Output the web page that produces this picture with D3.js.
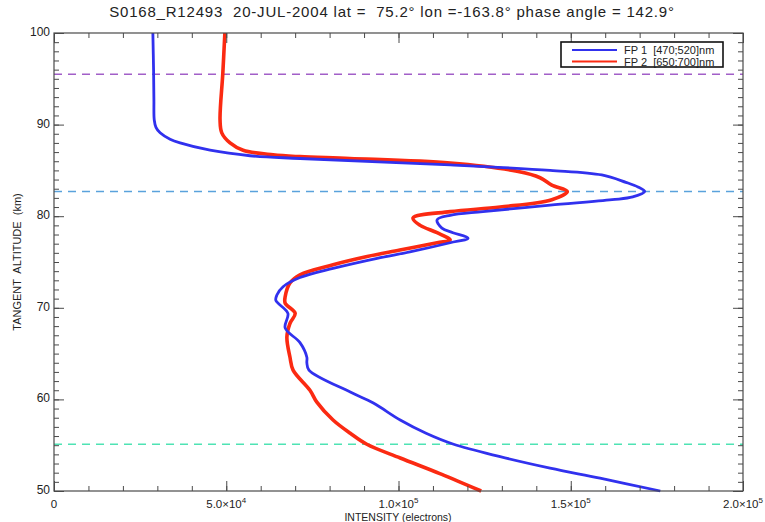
<!DOCTYPE html>
<html><head><meta charset="utf-8">
<script src="https://cdn.jsdelivr.net/npm/d3@7"></script>
<style>
body{margin:0;background:#fff;}
svg{display:block;font-family:"Liberation Sans","DejaVu Sans",sans-serif;}
</style></head>
<body><svg id="c" width="765" height="522"></svg>
<script>
// ---------- data ----------
const titleText = "S0168_R12493  20-JUL-2004 lat =  75.2\u00b0 lon =-163.8\u00b0 phase angle = 142.9\u00b0";
const xTickValues = [0, 50000, 100000, 150000, 200000];
const xTickMantissa = ["0", "5.0\u00d710", "1.0\u00d710", "1.5\u00d710", "2.0\u00d710"];
const xTickExponent = ["", "4", "5", "5", "5"];
const yTickValues = [50, 60, 70, 80, 90, 100];
const seriesNames = ["FP 1  [470;520]nm", "FP 2  [650;700]nm"];
const refAltitudes = [95.5, 82.7, 55.1];

// FP1 (blue): [intensity, altitude km]
const fp1 = [
 [28700,100],[28900,96],[29000,92.7],[29100,90.5],[29600,89.7],[30800,89.1],[33700,88.4],
 [36600,88.0],[45300,87.2],[56900,86.6],[71400,86.3],[115000,85.6],[144000,85.0],[159000,84.5],
 [166000,83.7],[169500,83.2],[171500,82.7],[168000,82.1],[162000,81.8],[144000,81.2],[124500,80.5],
 [115000,80.1],[111200,79.6],[112600,78.7],[115800,78.2],[120200,77.6],[115000,77.1],[103300,76.1],
 [93800,75.4],[81000,74.3],[71400,73.3],[66500,72.3],[64700,71.4],[64400,70.8],[67900,69.4],
 [67100,67.8],[71400,66.2],[73400,64.6],[73400,64.0],[74000,63.2],[86000,60.8],[92700,59.6],
 [100500,57.75],[108000,56.3],[116000,55.1],[129500,53.75],[144000,52.5],[158500,51.4],[176000,50.0]
];
// FP2 (red): [intensity, altitude km]
const fp2 = [
 [49600,100],[49000,95.6],[48200,90.5],[48700,89.1],[51100,88.0],[54900,87.2],[63600,86.7],
 [71400,86.5],[85900,86.3],[115000,85.8],[134400,84.9],[141100,84.2],[144500,83.4],[149000,82.7],
 [144500,81.8],[129500,81.0],[115000,80.5],[104200,79.8],[106300,79.0],[111200,78.2],[115000,77.4],
 [111200,77.1],[100400,76.3],[90900,75.6],[81000,74.7],[71400,73.6],[68500,72.7],[67100,71.2],
 [67100,70.5],[70000,69.4],[68500,68.3],[67600,66.8],[68500,64.6],[69400,63.2],[74300,61.0],
 [76300,59.7],[81000,57.75],[86000,56.3],[90800,55.1],[100500,53.6],[112000,51.9],[124000,50.0]
];

// ---------- layout ----------
const m = {left:54, right:743, top:33, bottom:491};
const svg = d3.select("#c");
const x = d3.scaleLinear().domain([0, 200000]).range([m.left, m.right]);
const y = d3.scaleLinear().domain([50, 100]).range([m.bottom, m.top]);
const axisColor = "#4a4a4a";

// reference dashed lines
const refColors = ["#a25fc8", "#5aa2dc", "#4fe3b4"];
svg.selectAll("line.ref").data(refAltitudes).enter().append("line")
  .attr("x1", m.left).attr("x2", m.right)
  .attr("y1", d => y(d)).attr("y2", d => y(d))
  .attr("stroke", (d,i) => refColors[i]).attr("stroke-width", 1.6)
  .attr("stroke-dasharray", "8,6");

// curves
const line = d3.line().x(d => x(d[0])).y(d => y(d[1])).curve(d3.curveCatmullRom.alpha(0.5));
svg.append("path").datum(fp2).attr("d", line).attr("fill","none")
  .attr("stroke","#fb2a12").attr("stroke-width",3.6).attr("stroke-linejoin","round");
svg.append("path").datum(fp1).attr("d", line).attr("fill","none")
  .attr("stroke","#3131ee").attr("stroke-width",2.8).attr("stroke-linejoin","round");

// axes (ticks inward on all sides)
function styleAxis(g){
  g.select(".domain").remove();
  g.selectAll(".tick line").attr("stroke", axisColor).attr("stroke-width", 1);
}
const xMinor = d3.range(0, 200001, 10000);
const yMinor = d3.range(50, 101, 1);

svg.append("g").attr("transform",`translate(0,${m.bottom})`)
  .call(d3.axisBottom(x).tickValues(xTickValues).tickSize(-10).tickFormat("")).call(styleAxis);
svg.append("g").attr("transform",`translate(0,${m.bottom})`)
  .call(d3.axisBottom(x).tickValues(xMinor).tickSize(-5).tickFormat("")).call(styleAxis);
svg.append("g").attr("transform",`translate(0,${m.top})`)
  .call(d3.axisTop(x).tickValues(xTickValues).tickSize(-10).tickFormat("")).call(styleAxis);
svg.append("g").attr("transform",`translate(0,${m.top})`)
  .call(d3.axisTop(x).tickValues(xMinor).tickSize(-5).tickFormat("")).call(styleAxis);

const gL = svg.append("g").attr("transform",`translate(${m.left},0)`)
  .call(d3.axisLeft(y).tickValues(yTickValues).tickSize(-10).tickPadding(4).tickFormat(d3.format("d")));
styleAxis(gL);
gL.selectAll(".tick text").attr("font-size", 12).attr("fill","#222")
  .attr("font-family","Liberation Sans, DejaVu Sans, sans-serif").attr("dy", "0.2em");
svg.append("g").attr("transform",`translate(${m.left},0)`)
  .call(d3.axisLeft(y).tickValues(yMinor).tickSize(-5).tickFormat("")).call(styleAxis);
svg.append("g").attr("transform",`translate(${m.right},0)`)
  .call(d3.axisRight(y).tickValues(yTickValues).tickSize(-10).tickFormat("")).call(styleAxis);
svg.append("g").attr("transform",`translate(${m.right},0)`)
  .call(d3.axisRight(y).tickValues(yMinor).tickSize(-5).tickFormat("")).call(styleAxis);

// x tick labels with superscripts
const xl = svg.append("g");
xTickValues.forEach((v,i) => {
  const t = xl.append("text").attr("x", x(v)).attr("y", 507.5).attr("text-anchor","middle")
    .attr("font-size", 11.5).attr("fill","#222");
  t.append("tspan").text(xTickMantissa[i]);
  if (xTickExponent[i]) t.append("tspan").attr("dy", -5).attr("font-size", 8).text(xTickExponent[i]);
});

// frame
svg.append("rect").attr("x", m.left).attr("y", m.top)
  .attr("width", m.right - m.left).attr("height", m.bottom - m.top)
  .attr("fill","none").attr("stroke", axisColor).attr("stroke-width", 1.2);

// titles
svg.append("text").attr("x", 392).attr("y", 17).attr("text-anchor","middle")
  .attr("font-size", 15).attr("letter-spacing", 0.8).attr("fill","#222")
  .style("white-space","pre").text(titleText);
svg.append("text").attr("x", 398).attr("y", 520.5).attr("text-anchor","middle")
  .attr("font-size", 10.5).attr("fill","#222").text("INTENSITY (electrons)");
svg.append("text").attr("transform", `translate(21,${(m.top+m.bottom)/2}) rotate(-90)`)
  .attr("text-anchor","middle").attr("font-size", 11).attr("fill","#222")
  .style("white-space","pre").text("TANGENT  ALTITUDE  (km)");

// legend
const lg = svg.append("g");
lg.append("rect").attr("x", 561).attr("y", 42).attr("width", 162).attr("height", 25)
  .attr("fill","#fff").attr("stroke","#111").attr("stroke-width", 1.6);
const legColors = ["#3131ee", "#fb2a12"];
seriesNames.forEach((n,i) => {
  const yy = 50 + i*11.5;
  lg.append("line").attr("x1", 572).attr("x2", 617).attr("y1", yy).attr("y2", yy)
    .attr("stroke", legColors[i]).attr("stroke-width", 2);
  lg.append("text").attr("x", 624).attr("y", yy + 4).attr("font-size", 11).attr("fill","#222")
    .style("white-space","pre").text(n);
});
</script></body></html>
